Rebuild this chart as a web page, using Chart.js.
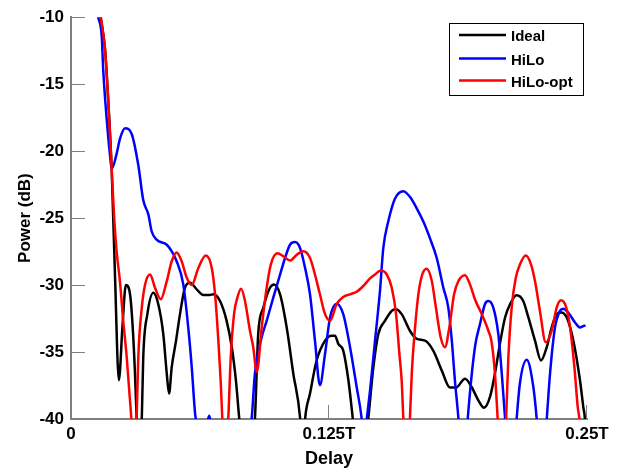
<!DOCTYPE html>
<html><head><meta charset="utf-8">
<script src="https://cdn.jsdelivr.net/npm/chart.js@4"></script>
<style>html,body{margin:0;padding:0;background:#fff}#wrap{width:624px;height:471px}</style>
</head><body><div id="wrap"><canvas id="c" width="624" height="471"></canvas></div>
<script>
// Delay in units of 0.001T (0 .. 250 = 0 .. 0.25T), power in dB
const xTickValues = [0, 125, 250];
const xTickLabels = ["0", "0.125T", "0.25T"];
const yTickValues = [-10, -15, -20, -25, -30, -35, -40];
const seriesNames = ["Ideal", "HiLo", "HiLo-opt"];
const seriesColors = ["#000000", "#0000ff", "#ff0000"];

const delayIdeal = [
 13.97, 14.4, 16.5, 18.1, 19.7, 21.3, 23.2, 25.0, 26.6, 28.6,
 29.9, 31.0, 31.8, 33.0, 34.3, 35.0, 37.0, 39.9, 42.3, 44.7,
 46.4, 47.5, 48.8, 50.9, 52.8, 55.2, 57.7, 60.9, 64.1, 67.3,
 68.9, 72.2, 75.4, 77.9, 79.9, 81.5, 85.0, 89.1, 90.7, 93.2,
 96.4, 98.4, 101.3, 104.5, 107.7, 111.0, 112.2, 113.4, 115.8, 119.0,
 123.1, 126.3, 127.9, 129.5, 131.9, 134.4, 136.5, 140.0, 144.0, 146.5,
 148.9, 152.1, 155.4, 157.3, 160.2, 164.2, 167.5, 171.5, 175.5, 179.6,
 183.6, 186.5, 190.9, 194.1, 197.3, 200.1, 203.0, 205.4, 207.8, 210.3,
 212.7, 215.9, 219.1, 221.6, 224.8, 227.7, 230.5, 232.9, 235.3, 237.4,
 240.2, 243.4, 246.6, 248.2, 249.0, 249.6];
const powerIdeal = [
 -9.5, -10, -12.42, -16.37, -21.31, -29.21, -37.1, -32.89, -30.0, -30.69,
 -33.16, -36.59, -39.93, -44, -40, -35.39, -32.17, -30.57, -31.43, -33.65,
 -36.61, -38.10, -36.13, -34.15, -32.17, -30.2, -29.83, -30.32, -30.74, -30.74,
 -30.69, -31.19, -32.67, -34.64, -37.11, -39.93, -45, -40, -33.65, -31.68,
 -30.2, -29.95, -30.69, -33.16, -36.61, -39.93, -43, -40, -38.1, -35.63,
 -34.15, -33.78, -33.78, -34.39, -34.89, -37.11, -39.93, -45, -40, -36.13,
 -33.65, -32.67, -31.93, -31.8, -32.17, -33.41, -34.02, -34.15, -34.89, -36.37,
 -37.65, -37.65, -36.99, -37.61, -38.59, -39.16, -38.35, -36.61, -34.39, -32.42,
 -31.43, -30.76, -31.19, -32.42, -34.15, -35.63, -34.64, -33.16, -32.17, -32.05,
 -32.42, -34.15, -37.11, -39.09, -40, -42];

const delayHiLo = [
 12.6, 13.2, 14.9, 15.6, 17.3, 18.9, 19.7, 22.1, 23.7, 26.2,
 29.4, 32.6, 35.0, 37.5, 39.1, 41.5, 46.4, 48.8, 51.2, 54.4,
 56.8, 58.5, 60.1, 61.0, 63.5, 65.5, 67.0, 68.5, 78.0, 87.5,
 89.1, 92.4, 94.8, 98.0, 101.3, 103.7, 106.1, 108.5, 111.0, 113.4,
 115.8, 118.2, 120.6, 123.1, 125.5, 128.7, 131.9, 135.2, 138.4, 140.8,
 142.0, 143.3, 144.9, 147.3, 149.7, 151.3, 153.7, 157.0, 161.0, 164.2,
 167.5, 170.7, 173.9, 177.2, 180.4, 182.8, 184.5, 186.0, 187.7, 190.0,
 192.2, 195.7, 198.2, 200.6, 202.2, 204.6, 207.0, 208.7, 210.3, 213.5,
 215.9, 217.5, 220.8, 224.0, 225.6, 228.0, 230.5, 232.1, 234.5, 236.9,
 238.5, 240.9, 244.2, 246.6, 248.7, 249.3];
const powerHiLo = [
 -9.5, -10, -11.43, -13.9, -17.61, -20.32, -21.31, -20.2, -19.09, -18.3,
 -18.72, -21.04, -23.65, -24.74, -26.0, -26.61, -26.99, -27.48, -28.22, -29.95,
 -33.16, -36.13, -39.56, -40.5, -44, -41, -39.75, -41, -46, -40,
 -36.61, -33.9, -32.67, -30.94, -29.21, -27.98, -26.99, -26.79, -27.24, -28.72,
 -30.69, -34.15, -37.48, -35.11, -32.42, -31.39, -32.17, -34.64, -37.61, -39.93,
 -42, -40, -37.85, -34.15, -30.44, -27.24, -25.26, -23.53, -22.99, -23.41,
 -24.27, -25.26, -26.5, -27.98, -30.2, -31.68, -34.15, -37.11, -39.93, -45,
 -40, -34.64, -32.89, -31.41, -31.19, -31.68, -33.63, -36.59, -39.93, -45,
 -40, -37.33, -35.58, -37.61, -39.93, -45, -40, -36.59, -33.16, -31.93,
 -31.76, -32.05, -32.79, -33.16, -33.04, -33.04];

const delayHiLoOpt = [
 13.97, 14.4, 16.5, 18.1, 19.7, 20.9, 22.1, 23.7, 25.3, 27.0,
 28.2, 29.2, 30.5, 31.8, 32.6, 34.3, 35.9, 38.3, 40.7, 43.5,
 46.4, 48.8, 51.2, 53.6, 56.1, 58.5, 61.7, 65.3, 68.2, 69.8,
 71.4, 72.5, 73.3, 74.8, 76.2, 77.4, 79.0, 80.6, 82.4, 84.3,
 86.7, 88.3, 90.0, 92.4, 94.8, 96.8, 100.0, 102.9, 106.1, 109.4,
 112.5, 115.8, 118.2, 120.6, 123.1, 125.5, 128.7, 131.9, 135.2, 138.4,
 141.6, 144.9, 147.3, 150.1, 153.0, 155.4, 157.5, 159.1, 160.2, 161.0,
 162.6, 164.2, 165.1, 166.7, 168.3, 170.2, 172.3, 174.8, 176.8, 179.1,
 181.2, 183.3, 185.6, 187.7, 190.9, 193.3, 195.7, 199.0, 202.2, 203.8,
 205.4, 206.7, 208.5, 210.8, 211.9, 213.5, 215.5, 217.5, 220.3, 222.9,
 224.8, 227.2, 230.0, 232.9, 235.3, 237.4, 239.7, 241.8, 243.9, 245.5,
 246.3, 247.0];
const powerHiLoOpt = [
 -9.5, -10, -12.42, -16.37, -21.31, -24.9, -27.48, -29.7, -32.67, -35.39,
 -37.85, -39.93, -44, -40, -35.39, -31.68, -29.95, -29.21, -30.2, -31.06,
 -29.7, -28.22, -27.56, -28.22, -29.46, -30.0, -28.72, -27.79, -28.72, -30.69,
 -34.15, -37.11, -39.93, -44, -40, -35.39, -32.17, -30.94, -30.27, -31.19,
 -33.41, -34.64, -36.5, -33.16, -30.2, -28.47, -27.63, -27.85, -28.17, -27.73,
 -27.48, -27.98, -29.21, -30.69, -32.17, -32.67, -31.43, -30.89, -30.69, -30.5,
 -30.07, -29.5, -29.21, -28.91, -29.21, -30.2, -32.17, -35.13, -37.11, -39.93,
 -45, -40, -36.61, -33.16, -30.69, -29.21, -28.79, -29.7, -31.68, -33.9,
 -34.64, -33.16, -30.69, -29.7, -29.26, -29.95, -31.06, -32.17, -33.41, -34.27,
 -36.61, -39.93, -45, -40, -35.39, -31.68, -29.46, -28.47, -27.8, -28.47,
 -29.7, -31.93, -34.27, -33.41, -31.68, -31.13, -31.56, -33.16, -36.13, -39.09,
 -40, -42];

const FONT = "'Liberation Sans', Arial, Helvetica, sans-serif";
function pts(xs, ys) { return xs.map((x, i) => ({ x: x, y: ys[i] })); }

const datasets = [
  { label: seriesNames[0], data: pts(delayIdeal, powerIdeal), borderColor: seriesColors[0], order: 3 },
  { label: seriesNames[1], data: pts(delayHiLo, powerHiLo), borderColor: seriesColors[1], order: 2 },
  { label: seriesNames[2], data: pts(delayHiLoOpt, powerHiLoOpt), borderColor: seriesColors[2], order: 1 }
].map(d => Object.assign(d, { borderWidth: 2.5, pointRadius: 0, fill: false, cubicInterpolationMode: 'monotone', clip: 0 }));

const innerTicks = {
  id: 'innerTicks',
  afterDatasetsDraw(chart) {
    const { ctx, chartArea: a, scales: { x, y } } = chart;
    ctx.save();
    ctx.strokeStyle = '#808080';
    ctx.lineWidth = 1;
    ctx.beginPath();
    yTickValues.forEach(v => { const p = Math.round(y.getPixelForValue(v)) + 0.5; ctx.moveTo(a.left, p); ctx.lineTo(a.left + 14, p); });
    xTickValues.forEach(v => { const p = Math.round(x.getPixelForValue(v)) - 0.5; ctx.moveTo(p, a.bottom); ctx.lineTo(p, a.bottom - 14); });
    ctx.stroke();
    ctx.restore();
  }
};

const boxLegend = {
  id: 'boxLegend',
  afterDraw(chart) {
    const ctx = chart.ctx;
    ctx.save();
    ctx.fillStyle = '#fff';
    ctx.fillRect(449.5, 23.5, 134, 72);
    ctx.strokeStyle = '#000';
    ctx.lineWidth = 1;
    ctx.strokeRect(449.5, 23.5, 134, 72);
    const rows = [35, 58.5, 80.5];
    chart.data.datasets.forEach((d, i) => {
      ctx.strokeStyle = d.borderColor;
      ctx.lineWidth = 2.5;
      ctx.beginPath();
      ctx.moveTo(459, rows[i]);
      ctx.lineTo(506, rows[i]);
      ctx.stroke();
      ctx.fillStyle = '#000';
      ctx.font = 'bold 15px ' + FONT;
      ctx.textBaseline = 'middle';
      ctx.textAlign = 'left';
      ctx.fillText(d.label, 511, rows[i] + 2);
    });
    ctx.restore();
  }
};

new Chart(document.getElementById('c'), {
  type: 'line',
  data: { datasets: datasets },
  options: {
    responsive: false,
    devicePixelRatio: 1,
    animation: false,
    layout: { padding: { left: 0, top: 14, right: 37, bottom: 0 } },
    plugins: { legend: { display: false }, tooltip: { enabled: false } },
    scales: {
      x: {
        type: 'linear', min: 0, max: 250,
        afterBuildTicks(s) { s.ticks = xTickValues.map(v => ({ value: v })); },
        ticks: { color: '#000', font: { family: FONT, size: 17, weight: 'bold' }, padding: 5, maxRotation: 0, autoSkip: false,
                 callback: (v, i) => xTickLabels[i] },
        grid: { display: false, drawTicks: false },
        border: { display: true, color: '#808080', width: 2 },
        title: { display: true, text: 'Delay', color: '#000', font: { family: FONT, size: 18, weight: 'bold' }, padding: { top: 0, bottom: 1 } },
        afterFit(s) { s.height = 52; }
      },
      y: {
        type: 'linear', min: -40, max: -10,
        afterBuildTicks(s) { s.ticks = yTickValues.map(v => ({ value: v })); },
        ticks: { color: '#000', font: { family: FONT, size: 17, weight: 'bold' }, padding: 7 },
        grid: { display: false, drawTicks: false },
        border: { display: true, color: '#808080', width: 2 },
        title: { display: true, text: 'Power (dB)', color: '#000', font: { family: FONT, size: 17, weight: 'bold' }, padding: { top: 15, bottom: 0 } },
        afterFit(s) { s.width = 71; }
      }
    }
  },
  plugins: [innerTicks, boxLegend]
});
</script>
</body></html>
